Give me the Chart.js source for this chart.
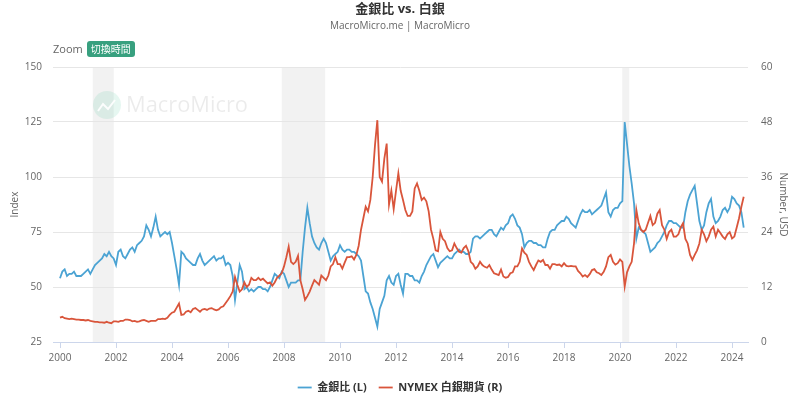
<!DOCTYPE html>
<html>
<head>
<meta charset="utf-8">
<script src="https://cdn.jsdelivr.net/npm/chart.js@4.4.1/dist/chart.umd.min.js"></script>
<style>
body { margin: 0; background: #fff; font-family: 'Open Sans', 'Noto Sans CJK TC', sans-serif; }
#wrap { position: relative; width: 800px; height: 409px; }
#title { position: absolute; top: 0; left: 0; width: 800px; text-align: center; font-size: 13px; font-weight: bold; color: #333; line-height: 16px; }
#sub { position: absolute; top: 18px; left: 0; width: 800px; text-align: center; font-size: 10px; color: #666; line-height: 14px; }
#zoom { position: absolute; left: 53px; top: 41px; font-size: 11px; color: #666; line-height: 16px; }
#zoom span { display: inline-block; margin-left: 4px; background: #38a07f; color: #fff; border-radius: 3px; padding: 0 4px; font-size: 10px; line-height: 16px; }
canvas { position: absolute; left: 0; top: 0; }
</style>
</head>
<body>
<div id="wrap">
  <canvas id="chart" width="800" height="409"></canvas>
  <div id="title">金銀比 vs. 白銀</div>
  <div id="sub">MacroMicro.me | MacroMicro</div>
  <div id="zoom">Zoom<span>切換時間</span></div>
</div>
<script>
// ─── DONNÉES (mensuelles, 2000-01 → 2024-06) ─────────────────────────────
const startYear = 2000;

// 金銀比 (L)
const ratio = [
  54, 57, 58, 55, 56, 56, 57, 55, 55, 55, 56, 57,
  58, 56, 58, 60, 61, 62, 63, 65, 64, 66, 64, 63,
  60, 66, 67, 64, 63, 65, 67, 68, 66, 69, 70, 71,
  73, 78, 76, 73, 77, 82, 76, 73, 74, 75, 74, 75,
  70, 64, 58, 51, 66, 65, 63, 62, 61, 60, 60, 63,
  65, 62, 60, 61, 62, 63, 64, 62, 63, 63, 64, 60,
  61, 60, 55, 44, 52, 60, 57, 49, 50, 48, 49, 48,
  49, 50, 50, 49, 49, 48, 50, 53, 56, 55, 54, 57,
  56, 53, 50, 52, 52, 52, 53, 53, 66, 77, 86, 79,
  73, 70, 68, 67, 70, 72, 70, 66, 62, 64, 65, 66,
  69, 67, 66, 67, 67, 66, 66, 65, 64, 62, 55, 48,
  47, 43, 40, 36, 32, 40, 43, 46, 53, 55, 52, 51,
  55, 56, 51, 47, 56, 56, 55, 55, 53, 53, 52, 55,
  57, 60, 62, 64, 65, 62, 59, 61, 62, 63, 64, 63,
  63, 65, 66, 67, 66, 66, 65, 65, 66, 72, 73, 73,
  72, 73, 74, 75, 76, 76, 74, 73, 75, 77, 76, 78,
  79, 82, 83, 81, 78, 77, 74, 68, 70, 71, 71, 70,
  70, 69, 69, 68, 68, 72, 75, 76, 76, 78, 79, 80,
  80, 82, 81, 79, 78, 77, 80, 83, 85, 84, 84, 85,
  83, 84, 85, 86, 87, 90, 93, 84, 82, 85, 86, 86,
  88, 89, 125, 115, 105, 97, 88, 72, 77, 76, 75, 74,
  70, 66, 67, 68, 70, 71, 73, 75, 78, 80, 80, 79,
  79, 78, 77, 77, 84, 89, 92, 94, 96, 88, 80, 76,
  78, 84, 88, 90, 82, 79, 80, 82, 85, 86, 84, 86,
  91, 90, 88, 87, 84, 77
];

// NYMEX 白銀期貨 (R), USD
const silver = [
  5.3, 5.5, 5.2, 5.1, 5.0, 5.1, 5.0, 4.9, 4.9, 4.8, 4.8, 4.7,
  4.8, 4.6, 4.5, 4.4, 4.4, 4.3, 4.3, 4.2, 4.4, 4.2, 4.1, 4.5,
  4.5, 4.4, 4.6, 4.6, 4.9, 4.9, 4.8, 4.5, 4.6, 4.4, 4.5, 4.7,
  4.8, 4.6, 4.4, 4.6, 4.6, 4.6, 5.0, 5.0, 5.1, 5.0, 5.3, 5.9,
  6.4, 6.6, 7.5, 8.4, 5.9, 6.0, 6.6, 6.8, 6.5, 7.2, 7.4, 7.0,
  6.6, 7.1, 7.2, 7.0, 7.3, 7.4, 7.1, 6.9, 7.1, 7.6, 7.8, 8.5,
  9.2, 10.0, 11.0, 14.2, 12.5, 11.0, 11.5, 13.0, 12.0, 12.5, 14.0, 13.5,
  13.5, 14.0, 13.5, 13.8, 13.3, 12.8, 13.0, 12.3, 13.0, 14.0, 14.5, 15.0,
  16.5, 18.5, 20.8, 17.5, 17.0, 17.5, 18.8, 13.5, 11.5, 9.2, 10.0, 11.0,
  12.3, 13.5, 13.0, 12.5, 14.5, 14.0, 13.5, 14.5, 16.5, 17.0, 18.5, 17.0,
  17.0, 16.0, 17.3, 18.5, 18.5, 18.7, 18.0, 19.0, 21.0, 24.5, 27.0, 29.5,
  28.5, 31.0, 36.0, 43.0, 48.4, 36.0, 35.0, 40.0, 43.3, 30.0, 33.0, 29.0,
  33.0, 36.8, 33.0, 31.0, 28.8, 27.5, 27.5, 28.5, 33.5, 34.6, 33.0, 31.0,
  31.5, 30.7, 28.5, 24.5, 22.5, 20.0, 19.8, 24.0, 22.5, 22.0, 20.5, 19.8,
  20.0, 21.5, 20.5, 19.7, 19.5, 20.5, 21.0, 19.8, 17.5, 17.0, 16.0, 16.5,
  17.5, 16.8, 16.4, 16.2, 16.8, 15.8, 15.0, 14.8, 14.6, 15.8, 14.3, 14.0,
  14.2, 15.0, 15.2, 16.5, 16.5, 17.5, 20.4, 19.5, 19.0, 17.5, 16.5, 15.7,
  16.8, 17.8, 17.5, 17.9, 16.8, 16.8, 16.0, 17.0, 17.0, 16.8, 16.9, 16.5,
  17.2, 16.6, 16.5, 16.6, 16.5, 16.5, 15.5, 15.0, 14.3, 14.6, 14.2, 14.8,
  15.7, 15.9, 15.2, 15.0, 14.6, 15.3, 16.5, 18.5, 19.0, 17.5, 16.9, 17.2,
  18.0, 17.5, 12.1, 15.2, 16.5, 17.5, 21.5, 28.8, 25.9, 24.5, 24.0, 24.5,
  26.0, 27.5, 25.5, 26.0, 28.0, 28.8, 25.5, 24.5, 22.5, 24.0, 24.5, 23.0,
  23.0, 23.5, 25.0, 25.9, 22.5, 21.5, 19.0, 17.9, 19.0, 20.0, 21.5, 24.5,
  23.5, 22.0, 23.0, 24.5, 25.2, 23.0, 24.5, 23.8, 23.0, 22.5, 23.5, 24.0,
  22.6, 23.0, 25.0, 27.0, 29.5, 31.7
];

// Zones grisées (récessions US), en années décimales
const recessionStart = [2001.17, 2007.92, 2020.08];
const recessionEnd   = [2001.92, 2009.47, 2020.33];

// Graduations
const leftTicks  = [25, 50, 75, 100, 125, 150];
const rightTicks = [0, 12, 24, 36, 48, 60];
const xRange = [1999.75, 2024.57];

const toPoints = arr => arr.map((v, i) => ({ x: startYear + i / 12, y: v }));

// ─── PLUGINS ──────────────────────────────────────────────────────────────
const bands = {
  id: 'bands',
  beforeDraw(chart) {
    const { ctx, chartArea: a, scales: { x } } = chart;
    ctx.save();
    ctx.fillStyle = '#f2f2f2';
    recessionStart.forEach((s, i) => {
      const x0 = x.getPixelForValue(s), x1 = x.getPixelForValue(recessionEnd[i]);
      ctx.fillRect(x0, a.top, x1 - x0, a.bottom - a.top);
    });
    ctx.restore();
  }
};

const watermark = {
  id: 'watermark',
  beforeDatasetsDraw(chart) {
    const ctx = chart.ctx;
    ctx.save();
    ctx.fillStyle = 'rgba(64, 190, 150, 0.13)';
    ctx.beginPath();
    ctx.arc(107, 105, 14, 0, Math.PI * 2);
    ctx.fill();
    ctx.strokeStyle = 'rgba(255,255,255,0.9)';
    ctx.lineWidth = 2;
    ctx.beginPath();
    ctx.moveTo(98, 111); ctx.lineTo(103, 104); ctx.lineTo(108, 109); ctx.lineTo(115, 100);
    ctx.stroke();
    // texte étiré pour occuper ~122 px comme l'original
    ctx.font = '21px "Open Sans", sans-serif';
    ctx.fillStyle = 'rgba(0, 0, 0, 0.08)';
    ctx.textBaseline = 'middle';
    const w = ctx.measureText('MacroMicro').width;
    ctx.translate(126, 106);
    ctx.scale(122 / w, 1);
    ctx.fillText('MacroMicro', 0, 0);
    ctx.restore();
  }
};

Chart.defaults.font.family = "'Open Sans', 'Noto Sans CJK TC', sans-serif";
Chart.defaults.color = '#666';

new Chart(document.getElementById('chart'), {
  type: 'line',
  data: {
    datasets: [
      {
        label: '金銀比 (L)',
        data: toPoints(ratio),
        yAxisID: 'yL',
        borderColor: '#4ba3d3',
        backgroundColor: '#4ba3d3',
        borderWidth: 1.8,
        pointRadius: 0,
        tension: 0,
        order: 1
      },
      {
        label: 'NYMEX 白銀期貨 (R)',
        data: toPoints(silver),
        yAxisID: 'yR',
        borderColor: '#d9553b',
        backgroundColor: '#d9553b',
        borderWidth: 1.8,
        pointRadius: 0,
        tension: 0,
        order: 0
      }
    ]
  },
  options: {
    responsive: false,
    animation: false,
    layout: { padding: { top: 67, left: 0, right: 0, bottom: 6 } },
    scales: {
      x: {
        type: 'linear',
        min: xRange[0],
        max: xRange[1],
        afterFit: s => { s.height = 28; },
        border: { color: '#ccd6eb' },
        grid: { drawOnChartArea: false, color: '#ccd6eb', tickLength: 6 },
        ticks: { stepSize: 2, includeBounds: false, padding: 4, font: { size: 10 }, color: '#666', callback: v => String(v) }
      },
      yL: {
        position: 'left',
        min: leftTicks[0],
        max: leftTicks[leftTicks.length - 1],
        afterFit: s => { s.width = 53; },
        border: { display: false },
        grid: { color: '#e6e6e6', drawTicks: false },
        ticks: { stepSize: 25, padding: 11, font: { size: 10 }, color: '#666' },
        title: { display: true, text: 'Index', font: { size: 10 }, color: '#666', padding: { top: 9, bottom: 0 } }
      },
      yR: {
        position: 'right',
        min: rightTicks[0],
        max: rightTicks[rightTicks.length - 1],
        afterFit: s => { s.width = 52; },
        border: { display: false },
        grid: { drawOnChartArea: false, drawTicks: false },
        ticks: { stepSize: 12, padding: 13, font: { size: 10 }, color: '#666' },
        title: { display: true, text: 'Number, USD', font: { size: 10 }, color: '#666', padding: { top: 11, bottom: 0 } }
      }
    },
    plugins: {
      legend: {
        position: 'bottom',
        labels: {
          usePointStyle: true,
          pointStyle: 'line',
          pointStyleWidth: 14,
          padding: 12,
          color: '#333',
          font: { size: 11, weight: 'bold' },
          sort: (a, b) => a.datasetIndex - b.datasetIndex
        }
      },
      tooltip: { enabled: false }
    }
  },
  plugins: [bands, watermark]
});
</script>
</body>
</html>
